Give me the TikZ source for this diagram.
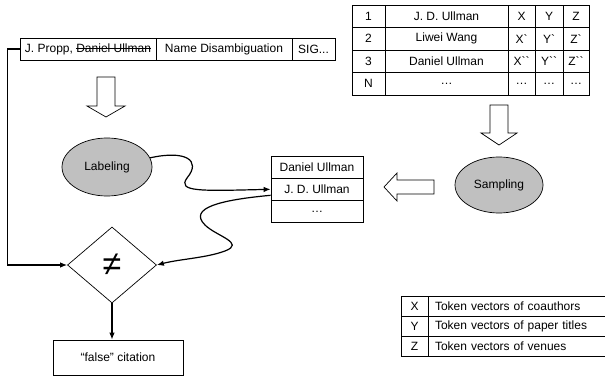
\documentclass[tikz,border=0pt]{standalone}
\usepackage{fontspec}
\setmainfont{Liberation Sans}
\usetikzlibrary{arrows.meta,positioning,calc,shapes.geometric}
\definecolor{procgray}{RGB}{192,192,192}
\newsavebox\strikebox
\newcommand\strikeout[1]{\sbox\strikebox{#1}\rlap{\rule[0.32em]{\wd\strikebox}{0.6pt}}\usebox\strikebox}
\tikzset{
  cell/.style={draw, line width=0.7pt, inner sep=0pt},
  proc/.style={ellipse, draw, line width=0.7pt, fill=procgray},
  hollow/.style={draw, line width=0.7pt, fill=white},
  flow/.style={-{Latex[length=7pt,width=5.5pt]}, line width=1.2pt},
}
\begin{document}
\begin{tikzpicture}[x=1pt, y=-1pt, font=\fontsize{12}{14}\selectfont]
    \useasboundingbox (0,0) rectangle (605,380);
    % --- citation record ---
    \node[cell, minimum width=136, minimum height=22] (rec1) at (88,49) {J. Propp, \strikeout{Daniel Ullman}};
    \node[cell, minimum width=136, minimum height=22] (rec2) at (224,49) {Name Disambiguation};
    \node[cell, minimum width=43, minimum height=22] (rec3) at (313.5,49) {SIG...};
    % --- author table ---
    \foreach \n/\name/\a/\b/\c [count=\r] in
      {1/J. D. Ullman/X/Y/Z,
       2/Liwei Wang/X\textasciigrave/Y\textasciigrave/Z\textasciigrave,
       3/Daniel Ullman/X\textasciigrave\textasciigrave/Y\textasciigrave\textasciigrave/Z\textasciigrave\textasciigrave,
       N/\ldots/\ldots/\ldots/\ldots} {
      \node[cell, minimum width=33, minimum height=22.5] (tab\r-1) at (368.5,{16.25+22.5*(\r-1)}) {\n};
      \node[cell, minimum width=123, minimum height=22.5] (tab\r-2) at (446.5,{16.25+22.5*(\r-1)}) {\name};
      \node[cell, minimum width=27, minimum height=22.5] (tab\r-3) at (521.5,{16.25+22.5*(\r-1)}) {\a};
      \node[cell, minimum width=28, minimum height=22.5] (tab\r-4) at (549,{16.25+22.5*(\r-1)}) {\b};
      \node[cell, minimum width=26, minimum height=22.5] (tab\r-5) at (576,{16.25+22.5*(\r-1)}) {\c};
    }
    % --- hollow arrows ---
    \draw[hollow] (97,77) -- (115,77) -- (115,106) -- (125,106) -- (106,117)
      -- (87,106) -- (97,106) -- cycle;
    \draw[hollow] (490,105) -- (508,105) -- (508,133) -- (517,133) -- (499,145)
      -- (481,133) -- (490,133) -- cycle;
    \draw[hollow] (434,180) -- (434,194) -- (397,194) -- (397,201) -- (384,187)
      -- (397,173) -- (397,180) -- cycle;
    % --- processes ---
    \node[proc, minimum width=90, minimum height=58] (label) at (107,167) {Labeling};
    \node[proc, minimum width=88, minimum height=56] (sample) at (499,185) {Sampling};
    % --- candidate list ---
    \foreach \name [count=\r] in {Daniel Ullman, J. D. Ullman, \ldots}
      \node[cell, minimum width=92, minimum height=22.3] (cand\r) at (317,{167+22.3*(\r-1)}) {\name};
    % --- comparison and result ---
    \node[diamond, draw, line width=0.7pt, aspect=1.17, minimum width=89, minimum height=76,
      inner sep=0pt, font=\fontsize{34}{34}\selectfont] (neq) at (112,265) {≠};
    \node[cell, minimum width=130, minimum height=35] (fals) at (118,357.5) {“false” citation};
    % --- legend ---
    \foreach \k/\txt [count=\r] in {X/Token vectors of coauthors, Y/Token vectors of paper titles,
      Z/Token vectors of venues} {
      \node[cell, minimum width=27, minimum height=20] (key\r) at (414.5,{306+20*(\r-1)}) {\k};
      \node[cell, minimum width=179, minimum height=20, text width=165, inner xsep=7pt,
        align=left] (txt\r) at (517.5,{306+20*(\r-1)}) {\txt};
    }
    % --- connectors ---
    \draw[flow] (rec1.west) -- ++(-12,0) |- (neq.west);
    \draw[flow] (label.12) .. controls (185,150) and (202,160) .. (187,178)
      .. controls (177,192) and (200,191) .. (cand2.west);
    \draw[flow] ([yshift=-6pt]cand2.west) .. controls (220,200) and (188,208) .. (205,225)
      .. controls (216,236) and (246,243) .. (225,251)
      .. controls (206,258) and (180,259) .. (neq.east);
    \draw[flow] (neq.south) -- (neq.south |- fals.north);
\end{tikzpicture}
\end{document}
